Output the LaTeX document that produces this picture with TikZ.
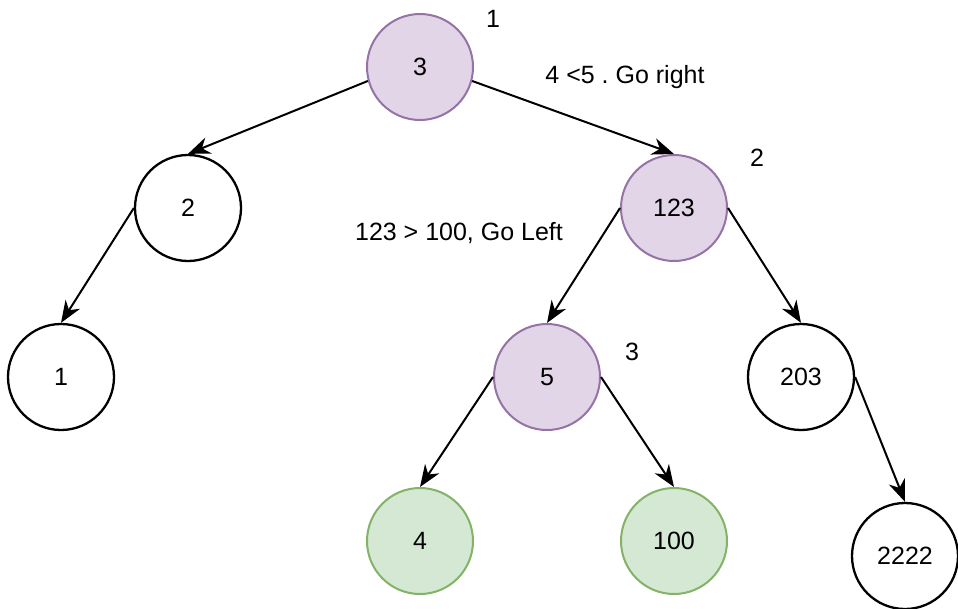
\documentclass[tikz,border=0pt]{standalone}
\usepackage{fontspec}
\setmainfont{Liberation Sans}
\usetikzlibrary{arrows.meta}
\frenchspacing
\definecolor{purpfill}{HTML}{E1D5E7}
\definecolor{purpline}{HTML}{9673A6}
\definecolor{greenfill}{HTML}{D5E8D4}
\definecolor{greenline}{HTML}{82B366}
\begin{document}
\begin{tikzpicture}[x=1pt,y=-1pt,
  every node/.style={font=\fontsize{25}{29}\selectfont},
  treenode/.style={circle,minimum size=106pt,inner sep=0pt,draw=black,line width=2.3pt,fill=white},
  visited/.style={treenode,draw=purpline,fill=purpfill,line width=2pt},
  found/.style={treenode,draw=greenline,fill=greenfill,line width=2pt},
  edge/.style={line width=2pt,-{Stealth[length=22pt,width=17pt,inset=7pt]}},
  note/.style={inner sep=0pt}]
\useasboundingbox (0,0) rectangle (958,608);
\node[visited] (n3) at (420,67) {3};
\node[treenode] (n2) at (188,208) {2};
\node[visited] (n123) at (674,208) {123};
\node[treenode] (n1) at (61,377) {1};
\node[visited] (n5) at (547,377) {5};
\node[treenode] (n203) at (801,377) {203};
\node[found] (n4) at (420,541) {4};
\node[found] (n100) at (674,541) {100};
\node[treenode] (n2222) at (905,556) {2222};
\node[note] (l1) at (493,19) {1};
\node[note] (l2) at (757,158) {2};
\node[note] (l3) at (632,352) {3};
\node[note] (goright) at (625,77) {4 <5 . Go right};
\node[note] (goleft) at (459,233) {123 > 100, Go Left};
\draw[edge] (n3.195) -- (n2.north);
\draw[edge] (n3.-15) -- (n123.north);
\draw[edge] (n2.west) -- (n1.north);
\draw[edge] (n123.west) -- (n5.north);
\draw[edge] (n123.east) -- (n203.north);
\draw[edge] (n5.west) -- (n4.north);
\draw[edge] (n5.east) -- (n100.north);
\draw[edge] (n203.east) -- (n2222.north);
\end{tikzpicture}
\end{document}
